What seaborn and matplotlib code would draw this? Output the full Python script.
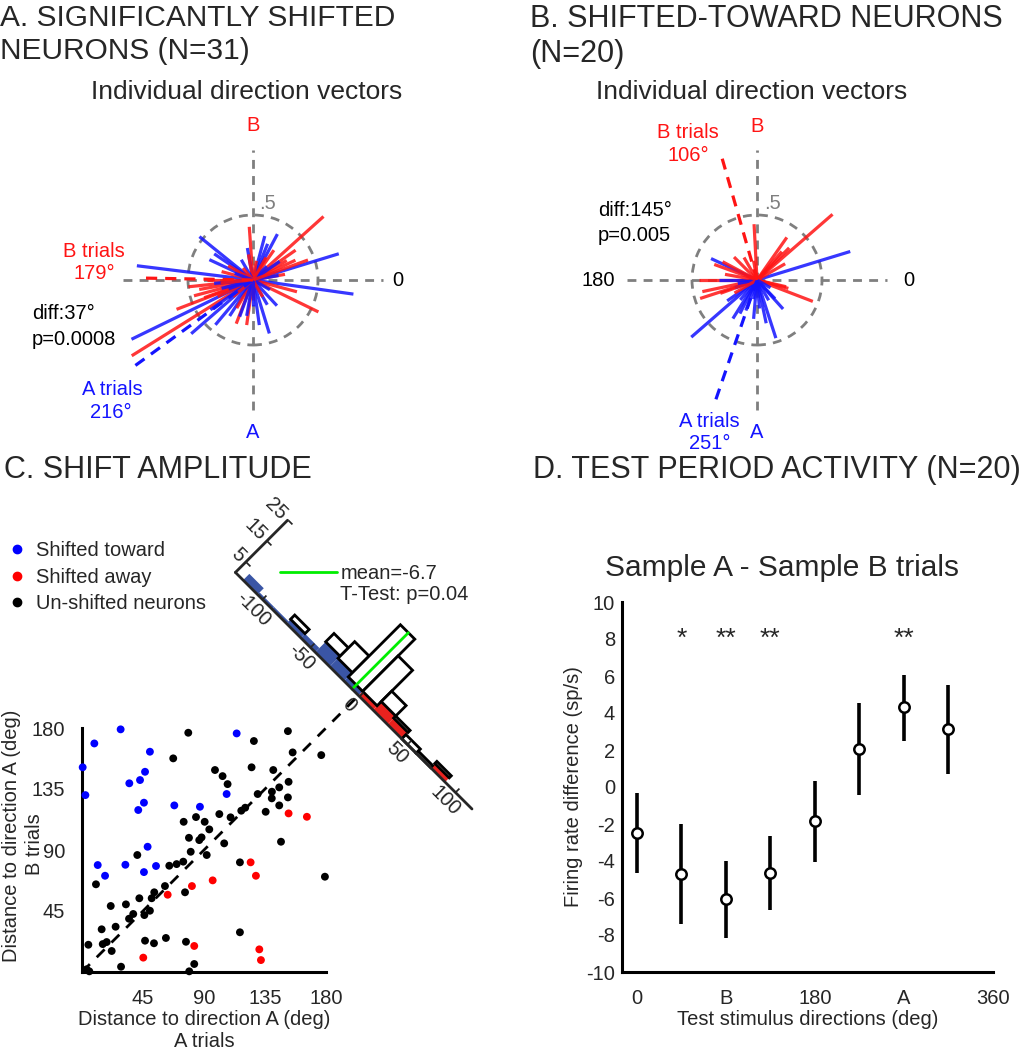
import numpy as np
import pandas as pd
import matplotlib
matplotlib.use("Agg")
import matplotlib.pyplot as plt
import seaborn as sns
from matplotlib.transforms import Affine2D
from matplotlib.lines import Line2D
from matplotlib.patches import Circle
from mpl_toolkits.axisartist import floating_axes
from mpl_toolkits.axisartist.grid_finder import FixedLocator, DictFormatter

# ------------------------------------------------------------------ data
# Panel A: individual direction vectors (angle deg, length)
a_blue_ang = [173, 17, 352, 141, 206, 75, 62, 287, 313, 237, 221, 155, 146, 278, 68, 100,
              35, 195, 260, 300, 230, 215, 250, 185, 10, 120, 330, 270, 45, 200, 160]
a_blue_len = [0.90, 0.69, 0.78, 0.53, 1.04, 0.35, 0.40, 0.43, 0.27, 0.33, 0.63, 0.37, 0.36,
              0.35, 0.30, 0.25, 0.25, 0.25, 0.28, 0.22, 0.45, 0.40, 0.30, 0.30, 0.20, 0.18,
              0.15, 0.20, 0.15, 0.20, 0.15]
a_red_ang = [42, 334, 212, 201, 94, 249, 262, 25, 186, 195, 190, 200, 35, 30, 55, 180,
             205, 240, 165, 150, 345, 10, 100, 80, 220, 270, 300, 130, 60, 185, 20]
a_red_len = [0.73, 0.56, 1.10, 0.63, 0.41, 0.36, 0.35, 0.36, 0.50, 0.47, 0.42, 0.40, 0.40,
             0.30, 0.28, 0.35, 0.30, 0.25, 0.25, 0.22, 0.35, 0.25, 0.20, 0.15, 0.20, 0.15,
             0.15, 0.12, 0.20, 0.25, 0.45]
a_mean_A = (216, 1.15)
a_mean_B = (179, 0.86)

# Panel B
b_blue_ang = [17, 221, 155, 288, 312, 282, 238, 243, 180, 314, 250, 230, 265, 200, 300,
              275, 215, 260, 190, 330]
b_blue_len = [0.75, 0.67, 0.39, 0.47, 0.30, 0.34, 0.35, 0.29, 0.29, 0.20, 0.25, 0.20, 0.30,
              0.18, 0.18, 0.22, 0.28, 0.15, 0.15, 0.12]
b_red_ang = [41, 339, 93, 198, 180, 192, 152, 49, 45, 347, 120, 135, 30, 55, 200, 170,
             345, 100, 210, 160]
b_red_len = [0.77, 0.46, 0.43, 0.46, 0.45, 0.43, 0.30, 0.29, 0.35, 0.23, 0.20, 0.25, 0.25,
             0.40, 0.30, 0.25, 0.25, 0.15, 0.20, 0.35]
b_mean_A = (251, 1.03)
b_mean_B = (106, 1.03)

# Panel C: scatter (distance to A, A trials / B trials)
toward_x = [28.5, 9.1, 0.5, 50.1, 46.5, 42.8, 34.9, 2.5, 45.7, 41.5, 68.1, 87.0, 106.7,
            114.1, 48.4, 11.6, 32.0, 54.6, 45.7, 17.0]
toward_y = [179.0, 168.6, 151.0, 162.5, 147.7, 141.6, 139.2, 130.5, 124.9, 119.5, 122.9,
            121.9, 131.3, 176.0, 92.4, 78.9, 79.1, 78.2, 73.7, 71.0]
away_x = [152.4, 165.9, 124.4, 128.3, 96.4, 81.1, 63.2, 82.8, 45.2, 130.8, 132.0]
away_y = [117.0, 114.5, 80.9, 71.0, 67.6, 63.4, 57.0, 19.2, 10.6, 16.7, 8.8]
unshift_x = [78.4, 151.9, 126.8, 67.3, 155.4, 176.5, 98.1, 103.7, 107.4, 125.1,
             141.1, 152.4, 145.5, 140.1, 129.6, 140.0, 151.9, 145.5, 120.4, 117.5,
             135.5, 101.3, 109.6, 84.1, 75.0, 90.5, 93.9, 78.9, 86.5, 88.2,
             104.9, 146.8, 80.2, 92.0, 40.8, 74.7, 69.8, 64.4, 116.5, 179.2,
             10.3, 61.2, 76.0, 53.3, 51.4, 42.3, 32.4, 21.2, 50.1, 46.0,
             37.8, 34.7, 24.8, 14.5, 15.3, 18.2, 4.7, 21.9, 28.8, 3.4,
             5.4, 46.5, 53.1, 61.9, 76.7, 82.8, 79.1, 116.5]
unshift_y = [176.5, 177.7, 170.4, 157.6, 162.0, 160.0, 149.0, 144.5, 138.6, 151.0,
             149.0, 140.3, 136.2, 133.0, 131.3, 128.1, 128.8, 122.9, 121.2, 119.0,
             118.2, 116.5, 114.1, 114.3, 110.8, 110.8, 105.2, 99.0, 97.3, 99.3,
             94.9, 96.1, 88.7, 86.3, 86.3, 81.4, 79.6, 78.4, 80.9, 70.3,
             64.7, 63.4, 58.8, 58.8, 54.4, 54.4, 49.9, 48.7, 45.2, 42.0,
             42.8, 39.3, 33.4, 31.5, 20.6, 22.1, 20.1, 15.5, 3.9, 2.0,
             0.5, 23.1, 21.2, 25.1, 22.3, 5.9, 0.5, 29.3]

# Panel C: histogram of shift amplitude (bin left edges, 15 deg wide), stacked counts
hist_left = [-120, -105, -90, -75, -60, -45, -30, -15, 0, 15, 30, 45, 60, 75, 90]
hist_blue = [3, 1, 1, 2, 2, 5, 4, 2, 0, 0, 0, 0, 0, 0, 0]
hist_red = [0, 0, 0, 0, 0, 0, 0, 0, 2, 4, 3, 0, 0, 2, 0]
hist_white = [0, 0, 0, 2, 0, 4, 8, 25, 17, 5, 1, 2, 1, 1, 0]
hist_mean = -6.7
hist_ticks = [-100, -50, 0, 50, 100]
hist_count_ticks = [5, 15, 25]

# Panel D: test period activity
d_dir = [0, 45, 90, 135, 180, 225, 270, 315]
d_mean = [-2.5, -4.7, -6.05, -4.65, -1.86, 2.05, 4.3, 3.14]
d_lo = [-4.65, -7.4, -8.15, -6.63, -4.05, -0.41, 2.5, 0.72]
d_hi = [-0.3, -2.0, -4.02, -2.67, 0.34, 4.54, 6.04, 5.53]
d_star = ["", "*", "**", "**", "", "", "**", ""]
d_xticks = [0, 45, 90, 135, 180, 225, 270, 315, 360]
d_xticklabels = ["0", "", "B", "", "180", "", "A", "", "360"]

# ------------------------------------------------------------------ style
sns.set_theme(style="white")
plt.rcParams["font.family"] = ["Liberation Sans", "DejaVu Sans"]
plt.rcParams["axes.unicode_minus"] = False

W, H = 1023, 1050
fig = plt.figure(figsize=(W / 100, H / 100), dpi=100)
fig.patch.set_facecolor("white")


def px_rect(x0, y0, x1, y1):
    return [x0 / W, 1 - y1 / H, (x1 - x0) / W, (y1 - y0) / H]


def ftext(x, y, s, **kw):
    return fig.text(x / W, 1 - y / H, s, **kw)


RED = "#ff1414"
BLUE = "#1414ff"
GRAY = "#7f7f7f"
R_PX = 130.0
FS = 14.5
TFS = 22


def vector_panel(cx, cy, b_ang, b_len, r_ang, r_len, mean_a, mean_b):
    hw, hh = 1.9, 1.4
    ax = fig.add_axes(px_rect(cx - hw * R_PX, cy - hh * R_PX, cx + hw * R_PX, cy + hh * R_PX))
    ax.set_xlim(-hw, hw)
    ax.set_ylim(-hh, hh)
    ax.axis("off")
    dash = (0, (3.2, 2.6))
    ax.plot([-1, 1], [0, 0], color=GRAY, lw=2, ls=dash, zorder=1)
    ax.plot([0, 0], [-1, 1], color=GRAY, lw=2, ls=dash, zorder=1)
    ax.add_patch(Circle((0, 0), 0.5, fill=False, ec=GRAY, lw=2, ls=dash, zorder=1))
    n = max(len(b_ang), len(r_ang))
    for i in range(n):
        for angs, lens, col in ((b_ang, b_len, BLUE), (r_ang, r_len, RED)):
            if i < len(angs):
                t = np.deg2rad(angs[i])
                ax.plot([0, lens[i] * np.cos(t)], [0, lens[i] * np.sin(t)], color=col,
                        lw=2.3, alpha=0.85, solid_capstyle="butt", zorder=2)
    for (ang, ln), col in ((mean_a, BLUE), (mean_b, RED)):
        t = np.deg2rad(ang)
        ax.plot([0, ln * np.cos(t)], [0, ln * np.sin(t)], color=col, lw=2.3,
                ls=(0, (3.5, 2.5)), zorder=3)
    return ax


# ------------------------------------------------------------------ titles
ftext(0, 4, "A. SIGNIFICANTLY SHIFTED\nNEURONS (N=31)", fontsize=21.5, va="top", ha="left", linespacing=1.22)
ftext(530, 4, "B. SHIFTED-TOWARD NEURONS\n(N=20)", fontsize=TFS, va="top", ha="left", linespacing=1.2)
ftext(247, 92, "Individual direction vectors", fontsize=19, va="center", ha="center")
ftext(752, 92, "Individual direction vectors", fontsize=19, va="center", ha="center")
ftext(4, 470, "C. SHIFT AMPLITUDE", fontsize=TFS, va="center", ha="left")
ftext(533, 470, "D. TEST PERIOD ACTIVITY (N=20)", fontsize=TFS, va="center", ha="left")
ftext(782, 568, "Sample A - Sample B trials", fontsize=21.5, va="center", ha="center")

# ------------------------------------------------------------------ panel A
axA = vector_panel(253, 280, a_blue_ang, a_blue_len, a_red_ang, a_red_len, a_mean_A, a_mean_B)
axA.text(0, 1.19, "B", color=RED, fontsize=FS, ha="center", va="center")
axA.text(0, -1.17, "A", color=BLUE, fontsize=FS, ha="center", va="center")
axA.text(1.115, 0, "0", color="black", fontsize=FS, ha="center", va="center")
axA.text(0.115, 0.59, ".5", color=GRAY, fontsize=FS, ha="center", va="center")
axA.text(-1.223, 0.223, "B trials", color=RED, fontsize=FS, ha="center", va="center")
axA.text(-1.223, 0.05, "179°", color=RED, fontsize=FS, ha="center", va="center")
axA.text(-1.70, -0.254, "diff:37°", color="black", fontsize=FS, ha="left", va="center")
axA.text(-1.70, -0.454, "p=0.0008", color="black", fontsize=FS, ha="left", va="center")
axA.text(-1.085, -0.846, "A trials", color=BLUE, fontsize=FS, ha="center", va="center")
axA.text(-1.092, -1.023, "216°", color=BLUE, fontsize=FS, ha="center", va="center")

# ------------------------------------------------------------------ panel B
axB = vector_panel(757, 280, b_blue_ang, b_blue_len, b_red_ang, b_red_len, b_mean_A, b_mean_B)
axB.text(0, 1.177, "B", color=RED, fontsize=FS, ha="center", va="center")
axB.text(0, -1.17, "A", color=BLUE, fontsize=FS, ha="center", va="center")
axB.text(-1.223, 0, "180", color="black", fontsize=FS, ha="center", va="center")
axB.text(1.17, 0, "0", color="black", fontsize=FS, ha="center", va="center")
axB.text(0.123, 0.592, ".5", color=GRAY, fontsize=FS, ha="center", va="center")
axB.text(-0.53, 1.138, "B trials", color=RED, fontsize=FS, ha="center", va="center")
axB.text(-0.53, 0.96, "106°", color=RED, fontsize=FS, ha="center", va="center")
axB.text(-1.223, 0.538, "diff:145°", color="black", fontsize=FS, ha="left", va="center")
axB.text(-1.223, 0.346, "p=0.005", color="black", fontsize=FS, ha="left", va="center")
axB.text(-0.365, -1.092, "A trials", color=BLUE, fontsize=FS, ha="center", va="center")
axB.text(-0.365, -1.254, "251°", color=BLUE, fontsize=FS, ha="center", va="center")

# ------------------------------------------------------------------ panel C scatter
axC = fig.add_axes(px_rect(82, 728, 326, 972))
df = pd.DataFrame({
    "a": toward_x + away_x + unshift_x,
    "b": toward_y + away_y + unshift_y,
    "group": ["Shifted toward"] * len(toward_x) + ["Shifted away"] * len(away_x)
             + ["Un-shifted neurons"] * len(unshift_x),
})
pal = {"Shifted toward": "#0000ff", "Shifted away": "#ff0000", "Un-shifted neurons": "black"}
sns.scatterplot(data=df, x="a", y="b", hue="group", palette=pal, s=32, linewidth=0,
                ax=axC, legend=False, clip_on=False, zorder=3)
axC.plot([0, 204], [0, 204], color="black", lw=2, ls=(0, (4, 3.5)), clip_on=False, zorder=2)
axC.set_xlim(0, 180)
axC.set_ylim(0, 180)
axC.set_xticks([45, 90, 135, 180])
axC.set_yticks([45, 90, 135, 180])
axC.set_xticks(np.arange(0, 181, 20), minor=True)
axC.set_yticks(np.arange(0, 181, 20), minor=True)
axC.tick_params(which="major", length=0, labelsize=FS, pad=12)
axC.tick_params(which="minor", direction="in", length=3, width=1.5, color="black")
for s in ("top", "right"):
    axC.spines[s].set_visible(False)
for s in ("left", "bottom"):
    axC.spines[s].set_linewidth(2.2)
    axC.spines[s].set_color("black")
axC.set_xlabel("Distance to direction A (deg)\nA trials", fontsize=FS, linespacing=1.15, labelpad=2)
axC.set_ylabel("Distance to direction A (deg)", fontsize=FS)
axC.yaxis.set_label_coords(-61 / 244, 0.56)
axC.text(-47 / 244, 0.525, "B trials", transform=axC.transAxes, rotation=90, fontsize=FS,
         ha="center", va="center")
axC.set_facecolor("none")

handles = [Line2D([], [], ls="", marker="o", ms=6, mfc=pal[k], mec=pal[k]) for k in pal]
fig.legend(handles, list(pal.keys()), loc="upper left", bbox_to_anchor=(9 / W, 1 - 541 / H),
           frameon=False, fontsize=FS, handlelength=0.8, handletextpad=0.55,
           labelspacing=0.38, borderpad=0, borderaxespad=0)

# ------------------------------------------------------------------ panel C histogram (rotated)
S_PX, C_PX = 1.36, 2.95
sc = C_PX / S_PX
smin, smax, cmin, cmax = -128, 118, 0, 25
tr = Affine2D().scale(1, sc).rotate_deg(-45)
corners = tr.transform([[smin, cmin], [smax, cmin], [smin, cmax], [smax, cmax]])
xmn, ymn = corners.min(0)
xmx, ymx = corners.max(0)
cxu, cyu = (xmn + xmx) / 2, (ymn + ymx) / 2
wu, hu = (xmx - xmn) * 1.02, (ymx - ymn) * 1.02
ox, oy = 358.5, 695.5
pcx, pcy = ox + cxu * S_PX, oy - cyu * S_PX
pw, ph = wu * S_PX, hu * S_PX
gh = floating_axes.GridHelperCurveLinear(
    tr, extremes=(smin, smax, cmin, cmax),
    grid_locator1=FixedLocator(hist_ticks),
    grid_locator2=FixedLocator(hist_count_ticks),
    tick_formatter1=DictFormatter({v: str(v) for v in hist_ticks}),
    tick_formatter2=DictFormatter({v: str(v) for v in hist_count_ticks}))
axH = fig.add_axes(px_rect(pcx - pw / 2, pcy - ph / 2, pcx + pw / 2, pcy + ph / 2),
                   axes_class=floating_axes.FloatingAxes, grid_helper=gh)
axH.patch.set_visible(False)
axH.axis["top"].set_visible(False)
axH.axis["right"].set_visible(False)
for k in ("bottom", "left"):
    axH.axis[k].line.set_linewidth(2)
    axH.axis[k].major_ticks.set_ticksize(4)
    axH.axis[k].major_ticks.set_linewidth(1.5)
    axH.axis[k].major_ticklabels.set_fontsize(FS)
aux = axH.get_aux_axes(tr)
centers = np.array(hist_left) + 7.5
hb = np.array(hist_blue, float)
hr = np.array(hist_red, float)
hw_ = np.array(hist_white, float)
aux.bar(centers, hb, width=15, color="#3a55a5", lw=0, clip_on=False)
aux.bar(centers, hr, width=15, bottom=hb, color="#e8221e", lw=0, clip_on=False)
m = hw_ > 0
aux.bar(centers[m], hw_[m], width=15, bottom=(hb + hr)[m], facecolor="white",
        edgecolor="black", lw=2, clip_on=False)
aux.plot([hist_mean, hist_mean], [0, (hb + hr + hw_)[7]], color="#00ee00", lw=2, clip_on=False)

fig.legend([Line2D([], [], color="#00ee00", lw=2), Line2D([], [], color="none")],
           [f"mean={hist_mean}", "T-Test: p=0.04"], loc="upper left",
           bbox_to_anchor=(280 / W, 1 - 564 / H), frameon=False, fontsize=FS,
           handlelength=2.85, handletextpad=0.15, labelspacing=0.1, borderpad=0,
           borderaxespad=0)

# ------------------------------------------------------------------ panel D
axD = fig.add_axes(px_rect(622, 602, 993, 972))
yerr = [np.subtract(d_mean, d_lo), np.subtract(d_hi, d_mean)]
axD.errorbar(d_dir, d_mean, yerr=yerr, fmt="o", ms=7.5, mfc="white", mec="black", mew=1.8,
             ecolor="black", elinewidth=2.6, capsize=0, zorder=3)
for xv, st in zip(d_dir, d_star):
    if st:
        axD.text(xv, 8.0, st, ha="center", va="center", fontsize=19)
axD.set_xlim(-15, 360)
axD.set_ylim(-10, 10)
axD.set_xticks(d_xticks)
axD.set_xticklabels(d_xticklabels)
axD.set_yticks(np.arange(-10, 11, 2))
axD.tick_params(axis="both", direction="in", length=4, width=2, color="black", labelsize=FS)
axD.tick_params(axis="x", pad=12)
axD.tick_params(axis="y", pad=5)
for s in ("top", "right"):
    axD.spines[s].set_visible(False)
for s in ("left", "bottom"):
    axD.spines[s].set_linewidth(2.2)
    axD.spines[s].set_color("black")
axD.set_xlabel("Test stimulus directions (deg)", fontsize=FS, labelpad=2)
axD.set_ylabel("Firing rate difference (sp/s)", fontsize=FS, labelpad=2)
axD.set_facecolor("none")

fig.savefig("out.png", dpi=100, facecolor="white")
